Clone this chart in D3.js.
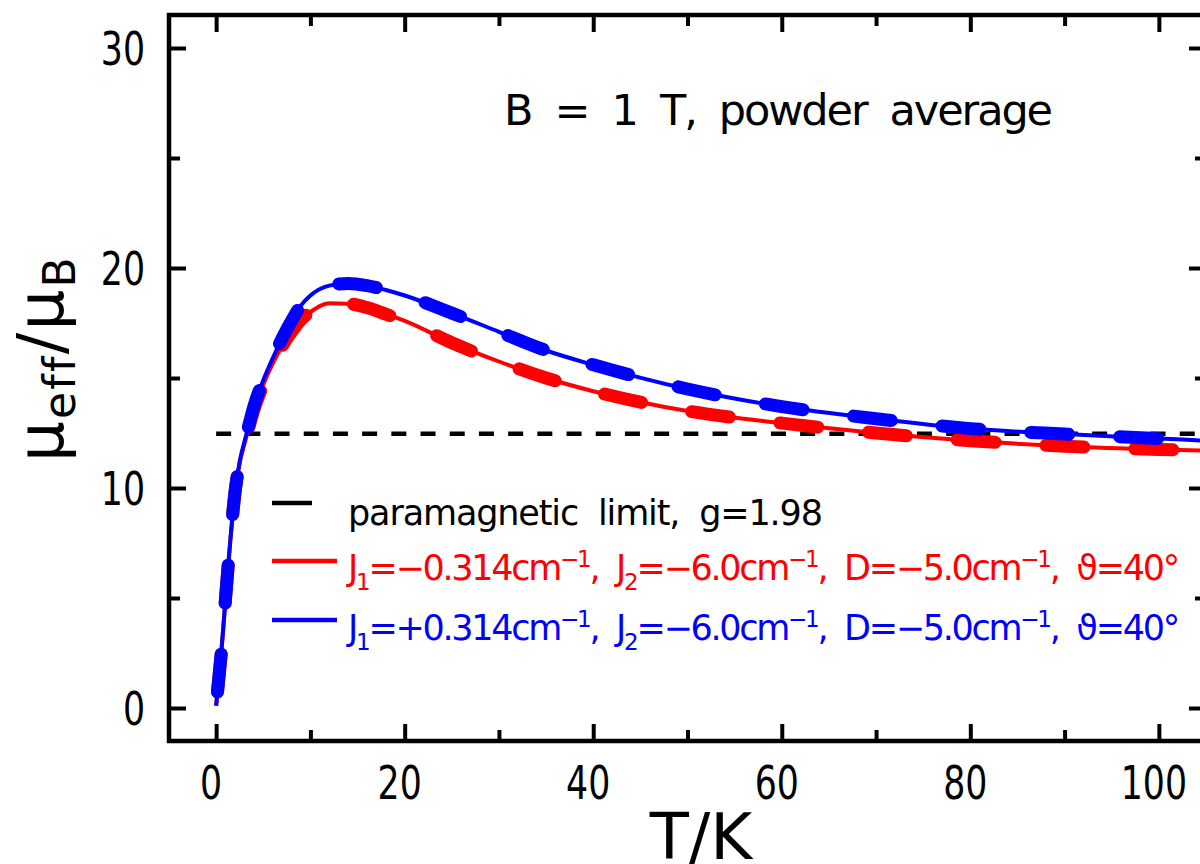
<!DOCTYPE html>
<html>
<head>
<meta charset="utf-8">
<script src="https://cdn.jsdelivr.net/npm/d3@7"></script>
<style>
    body { margin: 0; background: #fff; }
    svg { display: block; font-family: "DejaVu Sans", sans-serif; }
</style>
</head>
<body>
<div id="chart-area"></div>
<script>

// temperature grid (K) and effective moment (mu_B)
const temps   = [0, 0.25, 0.5, 0.75, 1, 1.5, 2, 2.5, 3, 3.5, 4, 5, 6, 7, 8, 9, 10, 12, 14, 16, 18, 20, 25, 30, 35, 40, 50, 60, 70, 80, 90, 100, 105];
// J1 = -0.314 cm-1 (red)
const muMinus = [0.1, 1.2, 2.3, 3.6, 5.0, 7.6, 9.8, 11.15, 12.0, 12.8, 13.55, 14.7, 15.65, 16.45, 17.1, 17.65, 18.0, 18.4, 18.38, 18.2, 17.9, 17.6, 16.6, 15.75, 15.0, 14.4, 13.5, 12.95, 12.5, 12.15, 11.9, 11.75, 11.7];
// J1 = +0.314 cm-1 (blue)
const muPlus  = [0.1, 1.2, 2.3, 3.6, 5.0, 7.6, 9.8, 11.2, 12.1, 12.9, 13.7, 14.9, 15.9, 16.8, 17.6, 18.3, 18.75, 19.2, 19.3, 19.2, 19.0, 18.75, 17.95, 17.1, 16.25, 15.6, 14.5, 13.7, 13.15, 12.7, 12.45, 12.25, 12.15];
// paramagnetic limit, g = 1.98
const paraLimit = 12.47;

const xMajor = [0, 20, 40, 60, 80, 100];
const xMinor = [10, 30, 50, 70, 90];
const yMajor = [0, 10, 20, 30];
const yMinor = [5, 15, 25];

const titleText = "B\u00a0\u00a0=\u00a0\u00a01\u00a0\u00a0T,\u00a0\u00a0powder\u00a0\u00a0average";
const legendPara = "paramagnetic\u00a0\u00a0limit,\u00a0\u00a0g=1.98";
const legendRed = [["J", ""], ["1", "sub"], ["=\u22120.314cm", ""], ["\u22121", "sup"], [",\u00a0\u00a0J", ""], ["2", "sub"],
    ["=\u22126.0cm", ""], ["\u22121", "sup"], [",\u00a0\u00a0D=\u22125.0cm", ""], ["\u22121", "sup"], [",\u00a0\u00a0\u03d1=40\u00b0", ""]];
const legendBlue = [["J", ""], ["1", "sub"], ["=+0.314cm", ""], ["\u22121", "sup"], [",\u00a0\u00a0J", ""], ["2", "sub"],
    ["=\u22126.0cm", ""], ["\u22121", "sup"], [",\u00a0\u00a0D=\u22125.0cm", ""], ["\u22121", "sup"], [",\u00a0\u00a0\u03d1=40\u00b0", ""]];

const width = 1200, height = 864;

const svg = d3.select("#chart-area").append("svg")
    .attr("width", width)
    .attr("height", height);

const x = d3.scaleLinear().domain([-5, 105]).range([169, 1206]);
const y = d3.scaleLinear().domain([-1.5, 31.5]).range([741, 15]);

// stretch/shrink letter spacing so a text spans the given width
function fitText(sel, w) {
    let node = sel.node();
    let natural = node.getComputedTextLength();
    let n = node.textContent.length;
    sel.attr("letter-spacing", ((w - natural) / (n - 1)).toFixed(2));
}

svg.append("defs").append("clipPath")
    .attr("id", "clip")
    .append("rect")
    .attr("x", x.range()[0])
    .attr("y", y.range()[1])
    .attr("width", x.range()[1] - x.range()[0])
    .attr("height", y.range()[0] - y.range()[1]);

// axes with inward ticks on all four sides
function styleAxis(g) {
    g.select(".domain").remove();
    g.selectAll(".tick line").attr("stroke", "#000").attr("stroke-width", 4);
}
let yBottom = y.range()[0], yTop = y.range()[1], xLeft = x.range()[0], xRight = x.range()[1];

svg.append("g").attr("transform", "translate(0," + yBottom + ")")
    .call(d3.axisBottom(x).tickValues(xMajor).tickSize(-17).tickFormat("")).call(styleAxis);
svg.append("g").attr("transform", "translate(0," + yBottom + ")")
    .call(d3.axisBottom(x).tickValues(xMinor).tickSize(-11).tickFormat("")).call(styleAxis);
svg.append("g").attr("transform", "translate(0," + yTop + ")")
    .call(d3.axisTop(x).tickValues(xMajor).tickSize(-17).tickFormat("")).call(styleAxis);
svg.append("g").attr("transform", "translate(0," + yTop + ")")
    .call(d3.axisTop(x).tickValues(xMinor).tickSize(-11).tickFormat("")).call(styleAxis);
svg.append("g").attr("transform", "translate(" + xLeft + ",0)")
    .call(d3.axisLeft(y).tickValues(yMajor).tickSize(-17).tickFormat("")).call(styleAxis);
svg.append("g").attr("transform", "translate(" + xLeft + ",0)")
    .call(d3.axisLeft(y).tickValues(yMinor).tickSize(-11).tickFormat("")).call(styleAxis);
svg.append("g").attr("transform", "translate(" + xRight + ",0)")
    .call(d3.axisRight(y).tickValues(yMajor).tickSize(-17).tickFormat("")).call(styleAxis);
svg.append("g").attr("transform", "translate(" + xRight + ",0)")
    .call(d3.axisRight(y).tickValues(yMinor).tickSize(-11).tickFormat("")).call(styleAxis);

svg.append("rect")
    .attr("x", xLeft).attr("y", yTop)
    .attr("width", xRight - xLeft).attr("height", yBottom - yTop)
    .attr("fill", "none").attr("stroke", "#000").attr("stroke-width", 4.5);

// tick labels (narrow digits)
svg.selectAll(".x-lab").data(xMajor).join("text")
    .attr("class", "x-lab")
    .attr("transform", d => "translate(" + (x(d) - 5) + ",799) scale(0.74,1)")
    .attr("text-anchor", "middle")
    .style("font-size", "47px")
    .text(d => d);

svg.selectAll(".y-lab").data(yMajor).join("text")
    .attr("class", "y-lab")
    .attr("transform", d => "translate(145," + (y(d) + 17) + ") scale(0.74,1)")
    .attr("text-anchor", "end")
    .style("font-size", "47px")
    .text(d => d);

// axis titles
svg.append("text")
    .attr("x", 701).attr("y", 859)
    .attr("text-anchor", "middle")
    .style("font-size", "64px")
    .text("T/K");

let yTitle = svg.append("text")
    .attr("transform", "translate(63,462) rotate(-90)")
    .style("font-size", "64px");
yTitle.append("tspan").text("\u03bc");
yTitle.append("tspan").attr("dy", 12).style("font-size", "44px").text("eff");
yTitle.append("tspan").attr("dy", -12).text("/\u03bc");
yTitle.append("tspan").attr("dy", 12).style("font-size", "44px").text("B");
fitText(yTitle, 204);

// curves
let plot = svg.append("g").attr("clip-path", "url(#clip)");

plot.append("line")
    .attr("x1", x(0)).attr("x2", x(105))
    .attr("y1", y(paraLimit)).attr("y2", y(paraLimit))
    .attr("stroke", "#000").attr("stroke-width", 4.5)
    .attr("stroke-dasharray", "15,14.2");

let line = d3.line()
    .curve(d3.curveMonotoneX)
    .x(d => x(d[0]))
    .y(d => y(d[1]));

let series = [
    {values: muMinus, color: "#ff0000"},
    {values: muPlus, color: "#0000ff"}
];

series.forEach(s => {
    let pts = temps.map((t, i) => [t, s.values[i]]);
    plot.append("path")
        .attr("d", line(pts))
        .attr("fill", "none")
        .attr("stroke", s.color)
        .attr("stroke-width", 4);
    plot.append("path")
        .attr("d", line(pts))
        .attr("fill", "none")
        .attr("stroke", s.color)
        .attr("stroke-width", 13)
        .attr("stroke-linecap", "round")
        .attr("stroke-dasharray", "38,51")
        .attr("stroke-dashoffset", 75);
});

// annotation
let title = svg.append("text")
    .attr("x", 504).attr("y", 125)
    .style("font-size", "43px")
    .text(titleText);
fitText(title, 549);

// legend
svg.append("line")
    .attr("x1", 272).attr("x2", 312).attr("y1", 503).attr("y2", 503)
    .attr("stroke", "#000").attr("stroke-width", 4.5);
let paraText = svg.append("text")
    .attr("x", 348).attr("y", 525)
    .style("font-size", "35px")
    .text(legendPara);
fitText(paraText, 475);

function legendEntry(parts, color, ly, ty) {
    svg.append("line")
        .attr("x1", 272).attr("x2", 337).attr("y1", ly).attr("y2", ly)
        .attr("stroke", color).attr("stroke-width", 4.5);
    let t = svg.append("text")
        .attr("x", 348).attr("y", ty)
        .attr("fill", color)
        .style("font-size", "35px");
    let shift = 0;
    parts.forEach(p => {
        let target = p[1] === "sub" ? 10 : (p[1] === "sup" ? -13 : 0);
        t.append("tspan")
            .attr("dy", target - shift)
            .style("font-size", p[1] === "" ? "35px" : "23px")
            .text(p[0]);
        shift = target;
    });
    fitText(t, 832);
}
legendEntry(legendRed, "#ff0000", 561, 580);
legendEntry(legendBlue, "#0000ff", 620, 640);

</script>
</body>
</html>
